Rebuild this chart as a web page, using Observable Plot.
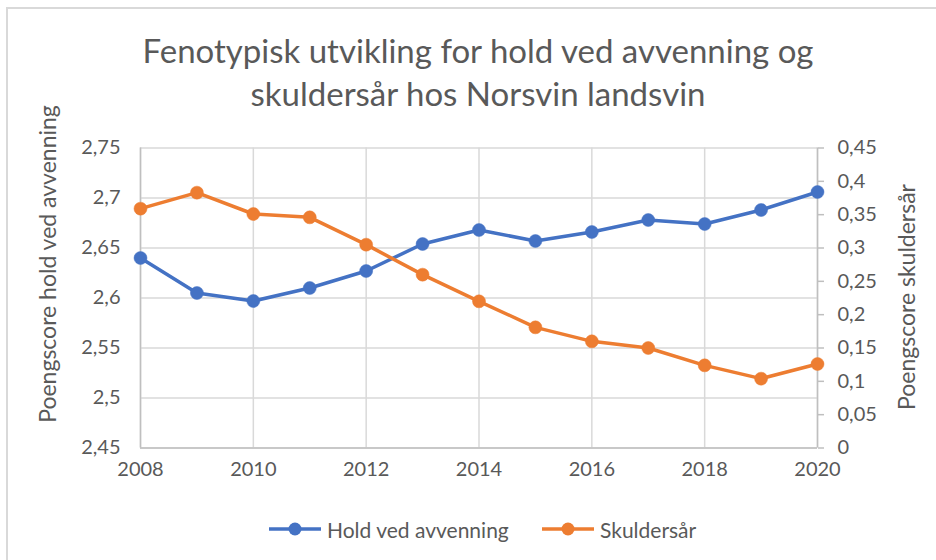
<!DOCTYPE html>
<html>
<head>
<meta charset="utf-8">
<script src="https://cdn.jsdelivr.net/npm/d3@7"></script>
<script src="https://cdn.jsdelivr.net/npm/@observablehq/plot@0.6"></script>
<style>
  html, body { margin: 0; padding: 0; background: #fff; }
  #wrap { position: relative; width: 936px; height: 560px; overflow: hidden; font-family: Lato, "Open Sans", sans-serif; color: #595959; }
  #border { position: absolute; left: 6px; top: 7px; width: 1000px; height: 1000px; border-top: 2px solid #d9d9d9; border-left: 2px solid #d9d9d9; }
  #title { position: absolute; left: 0; width: 956px; top: 29px; text-align: center; font-size: 33px; line-height: 43px; color: #595959; }
  #chart { position: absolute; left: 0; top: 120px; }
  .ytitle { position: absolute; white-space: nowrap; color: #595959; transform: translate(-50%, -50%) rotate(-90deg); }
  #legend { position: absolute; top: 516px; left: 0; width: 936px; height: 26px; }
  .leg { position: absolute; top: 0; display: flex; align-items: center; font-size: 21px; color: #595959; height: 26px; }
  .leg svg { margin-right: 6px; }
</style>
</head>
<body>
<div id="wrap">
  <div id="border"></div>
  <div id="title">Fenotypisk utvikling for hold ved avvenning og<br>skuldersår hos Norsvin landsvin</div>
  <div id="chart"></div>
  <div class="ytitle" style="left:47px; top:264px; font-size:23px;">Poengscore hold ved avvenning</div>
  <div class="ytitle" style="left:906px; top:297px; font-size:23px;">Poengscore skuldersår</div>
  <div id="legend"></div>
</div>
<script>
// ---- data ----
const years = [2008, 2009, 2010, 2011, 2012, 2013, 2014, 2015, 2016, 2017, 2018, 2019, 2020];
const holdVedAvvenning = [2.640, 2.605, 2.597, 2.610, 2.627, 2.654, 2.668, 2.657, 2.666, 2.678, 2.674, 2.688, 2.706];
const skuldersar = [0.359, 0.383, 0.351, 0.346, 0.305, 0.260, 0.220, 0.181, 0.160, 0.150, 0.124, 0.104, 0.126];
const seriesNames = ["Hold ved avvenning", "Skuldersår"];
const seriesColors = ["#4472C4", "#ED7D31"];

const leftTicks = [2.45, 2.5, 2.55, 2.6, 2.65, 2.7, 2.75];
const leftTickLabels = ["2,45", "2,5", "2,55", "2,6", "2,65", "2,7", "2,75"];
const rightTicks = [0, 0.05, 0.1, 0.15, 0.2, 0.25, 0.3, 0.35, 0.4, 0.45];
const rightTickLabels = ["0", "0,05", "0,1", "0,15", "0,2", "0,25", "0,3", "0,35", "0,4", "0,45"];
const xTicks = [2008, 2010, 2012, 2014, 2016, 2018, 2020];
const xTickLabels = ["2008", "2010", "2012", "2014", "2016", "2018", "2020"];

// ---- secondary axis mapping (right domain [0, 0.45] onto left domain [2.45, 2.75]) ----
const leftDomain = [2.45, 2.75];
const rightDomain = [0, 0.45];
const toLeft = v => leftDomain[0] + (v - rightDomain[0]) * (leftDomain[1] - leftDomain[0]) / (rightDomain[1] - rightDomain[0]);
const rightTicksMapped = rightTicks.map(toLeft);

const blue = years.map((year, i) => ({year, value: holdVedAvvenning[i]}));
const orange = years.map((year, i) => ({year, value: toLeft(skuldersar[i])}));

const lookup = (ticks, labels) => d => {
  const i = ticks.findIndex(t => Math.abs(t - d) < 1e-9);
  return i >= 0 ? labels[i] : "";
};

const grid = "#d9d9d9";
const axisColor = "#bfbfbf";
const textColor = "#595959";

const chart = Plot.plot({
  width: 936,
  height: 375,
  marginLeft: 140,
  marginRight: 119,
  marginTop: 27.5,
  marginBottom: 47.5,
  style: {fontFamily: "Lato, 'Open Sans', sans-serif", color: textColor, background: "transparent", overflow: "visible"},
  x: {domain: [2008, 2020]},
  y: {domain: leftDomain},
  marks: [
    Plot.gridY(leftTicks, {stroke: grid, strokeOpacity: 1, strokeWidth: 1.5}),
    Plot.gridX(xTicks, {stroke: grid, strokeOpacity: 1, strokeWidth: 1.5}),
    Plot.ruleX([2008], {stroke: axisColor, strokeWidth: 1.5}),
    Plot.ruleX([2020], {stroke: axisColor, strokeWidth: 1.5}),
    Plot.ruleY([2.45], {stroke: axisColor, strokeWidth: 1.5}),
    Plot.axisY(leftTicks, {anchor: "left", tickSize: 0, tickPadding: 20, tickFormat: lookup(leftTicks, leftTickLabels), fontSize: 20, fill: textColor, label: null}),
    Plot.axisY(rightTicksMapped, {anchor: "right", tickSize: 6, tickPadding: 14, stroke: axisColor, strokeWidth: 1.5, tickFormat: lookup(rightTicksMapped, rightTickLabels), fontSize: 20, fill: textColor, label: null}),
    Plot.axisX(xTicks, {anchor: "bottom", tickSize: 0, tickPadding: 14, tickFormat: lookup(xTicks, xTickLabels), fontSize: 20, fill: textColor, label: null}),
    Plot.line(blue, {x: "year", y: "value", stroke: seriesColors[0], strokeWidth: 3.5}),
    Plot.line(orange, {x: "year", y: "value", stroke: seriesColors[1], strokeWidth: 3.5}),
    Plot.dot(blue, {x: "year", y: "value", r: 6.5, fill: seriesColors[0], stroke: seriesColors[0], strokeWidth: 0.5}),
    Plot.dot(orange, {x: "year", y: "value", r: 6.5, fill: seriesColors[1], stroke: seriesColors[1], strokeWidth: 0.5})
  ]
});
document.getElementById("chart").appendChild(chart);

// ---- legend ----
const legend = document.getElementById("legend");
const legendLeft = [269, 542];
seriesNames.forEach((name, i) => {
  const item = document.createElement("div");
  item.className = "leg";
  item.style.left = legendLeft[i] + "px";
  item.innerHTML = `<svg width="52" height="14"><line x1="0" x2="52" y1="7" y2="7" stroke="${seriesColors[i]}" stroke-width="3.5"/><circle cx="26" cy="7" r="6.5" fill="${seriesColors[i]}"/></svg><span>${name}</span>`;
  legend.appendChild(item);
});
</script>
</body>
</html>
